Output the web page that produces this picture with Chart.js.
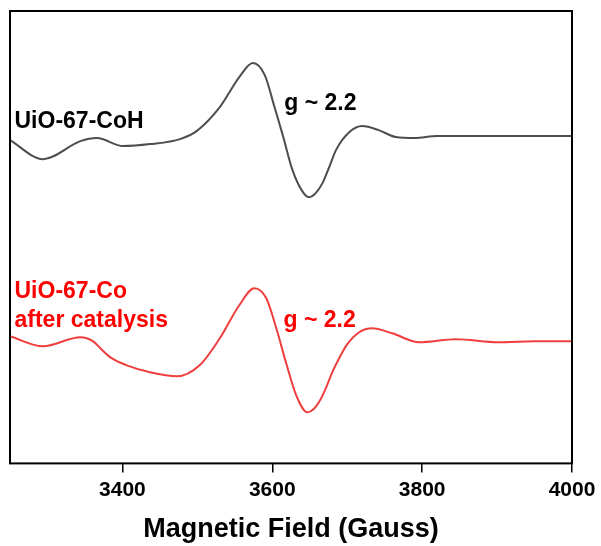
<!DOCTYPE html>
<html lang="en">
<head>
  <meta charset="UTF-8">
  <title>EPR spectra</title>
  <script src="https://cdn.jsdelivr.net/npm/chart.js"></script>
  <style>
    body { margin: 0; background: #ffffff; }
    #wrap { width: 601px; height: 546px; }
  </style>
</head>
<body>
  <div id="wrap"><canvas id="epr"></canvas></div>

  <script>
    // field positions (Gauss) and signal (arb. units)
    const fieldCoH = [3250, 3294, 3344, 3366, 3401, 3437, 3477, 3499, 3530, 3556, 3574, 3590, 3603, 3614, 3627, 3640, 3649, 3658, 3667, 3676, 3685, 3703, 3720, 3742, 3765, 3790, 3820, 3870, 3950, 4000];
    const signalCoH = [323, 304, 322, 325, 317, 319, 324, 332, 356, 386, 400, 388, 356, 328, 293, 272, 266, 270, 280, 296, 313, 331, 337, 333, 326, 325, 327, 327, 327, 327];

    const fieldCoCat = [3250, 3294, 3344, 3361, 3372, 3384, 3406, 3437, 3473, 3503, 3530, 3556, 3576, 3592, 3605, 3619, 3632, 3647, 3655, 3663, 3672, 3680, 3690, 3699, 3716, 3733, 3760, 3796, 3845, 3902, 3950, 4000];
    const signalCoCat = [127, 117, 126, 122, 114, 106, 98, 91, 87, 98, 125, 158, 175, 165, 136, 99, 68, 51, 54, 62, 76, 91, 106, 118, 131, 135, 130, 121, 124, 121, 122, 122];

    const xTicks = [3400, 3600, 3800, 4000];

    // text labels: [text, field, signal, colour]
    const notes = [
      ['UiO-67-CoH', 3256, 335, '#000000'],
      ['g ~ 2.2', 3616, 353, '#000000'],
      ['UiO-67-Co', 3256, 165, '#ff0000'],
      ['after catalysis', 3256, 136, '#ff0000'],
      ['g ~ 2.2', 3615, 136, '#ff0000']
    ];

    const FONT = 'Arial, "Liberation Sans", sans-serif';

    const toXY = (xs, ys) => xs.map((x, i) => ({ x: x, y: ys[i] }));

    // box round the plot area plus the text notes
    const framePlugin = {
      id: 'frame',
      afterDatasetsDraw(chart) {
        const { ctx, chartArea, scales } = chart;
        ctx.save();
        ctx.strokeStyle = '#000000';
        ctx.lineWidth = 2;
        ctx.strokeRect(chartArea.left, chartArea.top, chartArea.right - chartArea.left, chartArea.bottom - chartArea.top);
        ctx.font = 'bold 23px ' + FONT;
        ctx.textBaseline = 'alphabetic';
        ctx.textAlign = 'left';
        notes.forEach(n => {
          ctx.fillStyle = n[3];
          ctx.fillText(n[0], scales.x.getPixelForValue(n[1]), scales.y.getPixelForValue(n[2]));
        });
        ctx.restore();
      }
    };

    const ctx = document.getElementById('epr').getContext('2d');

    new Chart(ctx, {
      type: 'line',
      data: {
        datasets: [{
          label: 'UiO-67-CoH',
          data: toXY(fieldCoH, signalCoH),
          borderColor: '#4d4d4d',
          borderWidth: 2,
          pointRadius: 0,
          cubicInterpolationMode: 'monotone',
          fill: false
        }, {
          label: 'UiO-67-Co after catalysis',
          data: toXY(fieldCoCat, signalCoCat),
          borderColor: '#ef3e3e',
          borderWidth: 2,
          pointRadius: 0,
          cubicInterpolationMode: 'monotone',
          fill: false
        }]
      },
      options: {
        responsive: true,
        maintainAspectRatio: false,
        animation: false,
        layout: { padding: { left: 10, right: 29, top: 11, bottom: 0 } },
        plugins: {
          legend: { display: false },
          tooltip: { enabled: false }
        },
        scales: {
          x: {
            type: 'linear',
            min: 3250,
            max: 4000,
            afterBuildTicks: axis => { axis.ticks = xTicks.map(v => ({ value: v })); },
            border: { display: false },
            grid: {
              drawOnChartArea: false,
              drawTicks: true,
              tickLength: 9,
              color: '#000000',
              lineWidth: 1.5
            },
            ticks: {
              color: '#000000',
              padding: 5,
              maxRotation: 0,
              callback: v => String(v),
              font: { family: FONT, size: 21, weight: 'bold' }
            },
            title: {
              display: true,
              text: 'Magnetic Field (Gauss)',
              color: '#000000',
              padding: { top: 6, bottom: 0 },
              font: { family: FONT, size: 27, weight: 'bold' }
            }
          },
          y: {
            display: false,
            min: 0,
            max: 452
          }
        }
      },
      plugins: [framePlugin]
    });
  </script>
</body>
</html>
